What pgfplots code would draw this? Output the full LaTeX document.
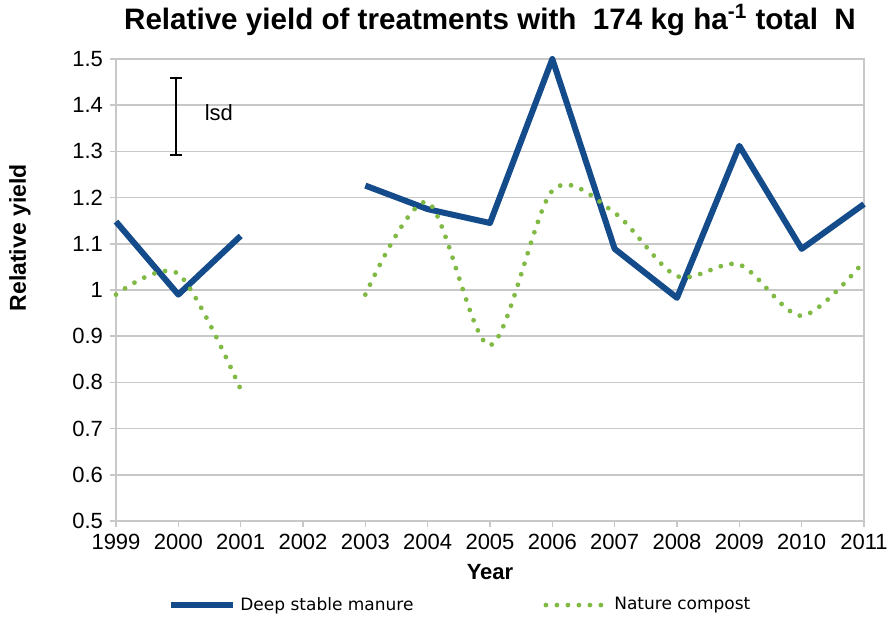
\documentclass[border=0pt]{standalone}
\usepackage{fontspec}
\setmainfont{Liberation Sans}
\newfontfamily\legfont{DejaVu Sans}
\usepackage{pgfplots}
\pgfplotsset{compat=1.18}
\definecolor{dsm}{RGB}{20,75,138}
\definecolor{nc}{RGB}{128,186,68}
\definecolor{gridgray}{RGB}{200,200,200}

\begin{document}
\begin{tikzpicture}
\useasboundingbox (-58pt,-52.5pt) rectangle (387pt,260.5pt);
\begin{axis}[
    at={(0,0)}, anchor=south west,
    scale only axis, width=374pt, height=231pt,
    xmin=1999, xmax=2011, ymin=0.5, ymax=1.5,
    xtick={1999,2000,2001,2002,2003,2004,2005,2006,2007,2008,2009,2010,2011},
    ytick={0.5,0.6,0.7,0.8,0.9,1,1.1,1.2,1.3,1.4,1.5},
    /pgf/number format/assume math mode=true,
    xticklabel style={/pgf/number format/set thousands separator={}},
    yticklabel style={/pgf/number format/fixed, /pgf/number format/precision=1},
    tick label style={font=\fontsize{11}{13}\selectfont},
    ymajorgrids, grid style={gridgray, line width=0.8pt},
    axis line style={gridgray, line width=0.8pt},
    tick style={gridgray, line width=0.8pt},
    tick align=outside, tick pos=left,
    major tick length=3pt,
    clip=false,
    xlabel={Year},
    xlabel style={font=\bfseries\fontsize{11}{13}\selectfont, at={(rel axis cs:0.5,0)}, anchor=center, yshift=-25.5pt},
    ylabel={Relative yield},
    ylabel style={font=\bfseries\fontsize{11.5}{13}\selectfont, at={(rel axis cs:0,0.613)}, anchor=center, yshift=48pt},
    unbounded coords=jump,
    legend columns=2,
    legend style={at={(axis description cs:0.0695,-0.182)}, anchor=west, draw=none, inner sep=0pt,
        font=\legfont\fontsize{8.5}{10}\selectfont,
        /tikz/every even column/.append style={column sep=63pt}},
    legend image code/.code={\draw[#1] (0pt,0pt) -- (31pt,0pt);},
]
\addplot[dsm, line width=3pt, line join=round] coordinates {
    (1999,1.148) (2000,0.99) (2001,1.117) (2002,nan) (2003,1.226) (2004,1.175)
    (2005,1.145) (2006,1.5) (2007,1.089) (2008,0.983) (2009,1.312)
    (2010,1.089) (2011,1.186)
};
\addlegendentry{Deep stable manure}
\addplot[nc, line width=2.4pt, line cap=round, dash pattern=on 0pt off 5.5pt, smooth, tension=0.5] coordinates {
    (1999,0.99) (2000,1.035) (2001,0.785)
};
\addlegendentry{Nature compost}
\addplot[nc, line width=2.4pt, line cap=round, dash pattern=on 0pt off 5.5pt, smooth, tension=0.5, forget plot] coordinates {
    (2003,0.99) (2004,1.19) (2005,0.88) (2006,1.215) (2007,1.167)
    (2008,1.03) (2009,1.055) (2010,0.944) (2011,1.062)
};
\addplot[black, line width=0.8pt, mark=-, mark size=3pt, mark options={solid, line width=0.8pt}, forget plot] coordinates {
    (1999.96,1.292) (1999.96,1.459)
};
\node[font=\fontsize{11}{13}\selectfont] at (axis cs:2000.65,1.383) {lsd};
\node[font=\bfseries\fontsize{14.8}{17}\selectfont] at (rel axis cs:0.5,1) [yshift=19.5pt] {Relative yield of treatments with \ 174 kg ha\textsuperscript{-1} total \ N};
\end{axis}
\end{tikzpicture}
\end{document}
